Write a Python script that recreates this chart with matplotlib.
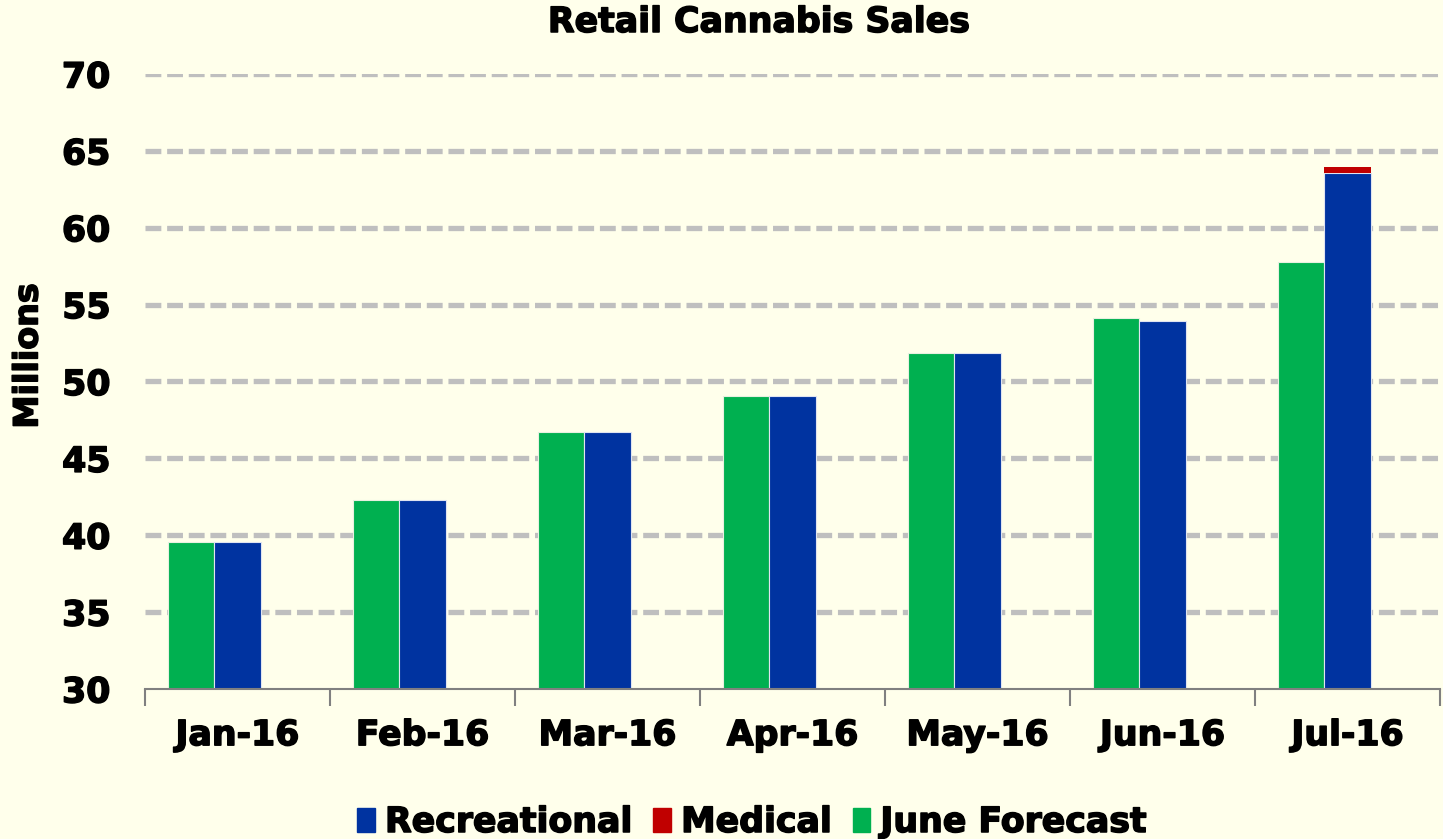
import numpy as np
import matplotlib.pyplot as plt
import matplotlib.patheffects as pe
from matplotlib.patches import Patch

months = ['Jan-16', 'Feb-16', 'Mar-16', 'Apr-16', 'May-16', 'Jun-16', 'Jul-16']
forecast = [39.56, 42.29, 46.72, 49.06, 51.85, 54.13, 57.77]
recreational = [39.56, 42.29, 46.72, 49.06, 51.85, 53.93, 63.58]
medical = [0, 0, 0, 0, 0, 0, 0.39]

bg = '#FFFFEB'
green = '#00B050'
blue = '#0033A0'
red = '#C00000'

plt.rcParams['font.family'] = ['DejaVu Sans']
plt.rcParams['font.weight'] = 'bold'
bold = [pe.withStroke(linewidth=1.1, foreground='black')]
fs = 25

fig = plt.figure(figsize=(14.43, 8.39), dpi=100, facecolor=bg)
ax = fig.add_axes([0.1005, 0.1788, 0.8975, 0.733])
ax.set_facecolor(bg)

x = np.arange(len(months))
w = 0.25
# bars sit left of the category centre, like the original
ax.bar(x - w, forecast, w, color=green, edgecolor='#E8F0E0', linewidth=0.8, zorder=3)
ax.bar(x, recreational, w, color=blue, edgecolor='#E0E4F0', linewidth=0.8, zorder=3)
ax.bar(x, medical, w, bottom=recreational, color=red, edgecolor='none', zorder=3)

ax.set_ylim(30, 70)
ax.set_xlim(-0.5, len(months) - 0.5)
ax.set_yticks(range(30, 71, 5))
ax.yaxis.grid(True, color='#BFBFBF', linestyle=(0, (3, 1.1)), linewidth=3.8, zorder=0)
ax.get_ygridlines()[0].set_visible(False)
ax.set_axisbelow(True)

for s in ['left', 'right', 'top']:
    ax.spines[s].set_visible(False)
ax.spines['bottom'].set_color('#808080')
ax.spines['bottom'].set_linewidth(1.5)
ax.spines['bottom'].set_zorder(4)

ax.set_xticks(x)
ax.set_xticklabels(months)
ax.set_xticks(np.arange(-0.5, len(months)), minor=True)
ax.tick_params(axis='x', which='major', length=0, labelsize=fs, pad=21)
ax.tick_params(axis='x', which='minor', length=12, width=1.5, color='#808080')
ax.tick_params(axis='y', length=0, labelsize=fs, pad=25)
for lab in ax.get_xticklabels() + ax.get_yticklabels():
    lab.set_fontweight('bold')
    lab.set_path_effects(bold)

fig.text(28 / 1443, 1 - 356 / 839, 'Millions', rotation=90, ha='center', va='center',
         fontsize=24, fontweight='bold', path_effects=bold)
fig.text(759 / 1443, 1 - 22 / 839, 'Retail Cannabis Sales', ha='center', va='center',
         fontsize=fs, fontweight='bold', path_effects=bold)

handles = [Patch(color=blue), Patch(color=red), Patch(color=green)]
leg = fig.legend(handles, ['Recreational', 'Medical', 'June Forecast'], loc='center',
                 bbox_to_anchor=(752 / 1443, 1 - 822 / 839), ncol=3, frameon=False,
                 handlelength=0.5, handleheight=0.7, handletextpad=0.3, columnspacing=0.6,
                 prop={'weight': 'bold', 'size': fs})
for t in leg.get_texts():
    t.set_path_effects(bold)

fig.savefig('out.png', dpi=100, facecolor=bg)
